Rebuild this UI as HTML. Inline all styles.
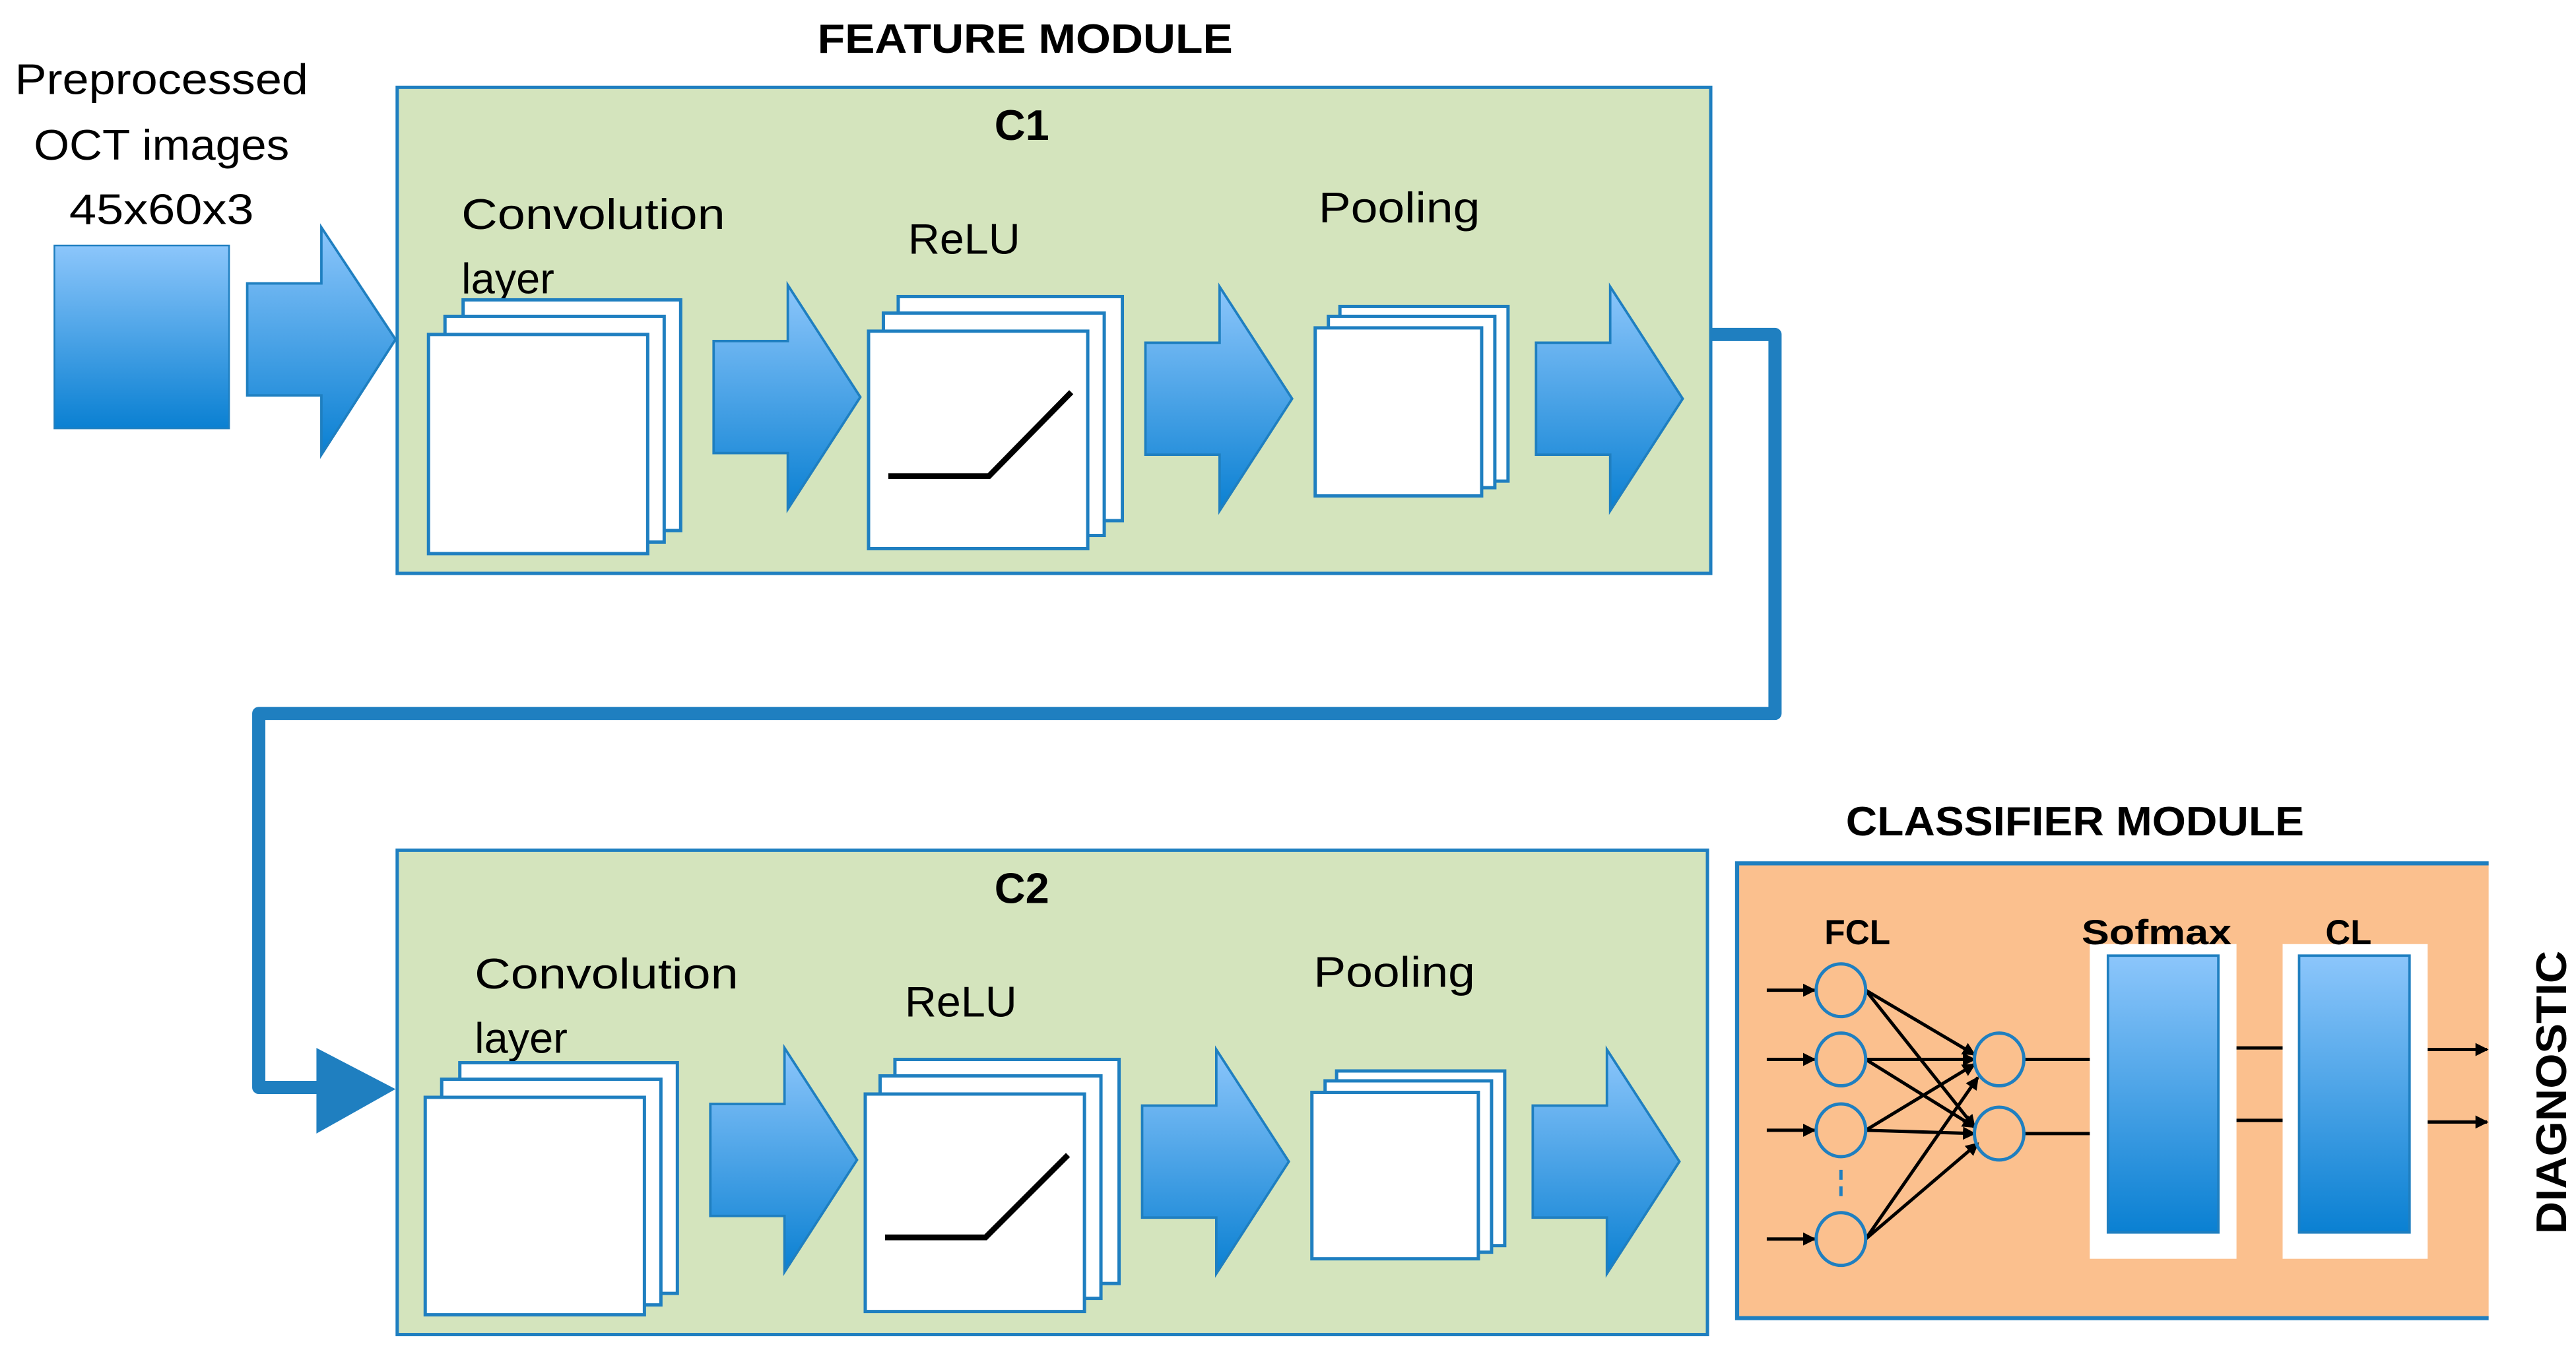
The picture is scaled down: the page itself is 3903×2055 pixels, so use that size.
<!DOCTYPE html>
<html><head><meta charset="utf-8"><style>html,body{margin:0;padding:0;background:#fff}svg{display:block}</style></head>
<body>
<svg width="3903" height="2055" viewBox="0 0 1563 823" preserveAspectRatio="none" xmlns="http://www.w3.org/2000/svg" font-family="Liberation Sans, sans-serif">
<defs>
<linearGradient id="g" x1="0" y1="0" x2="0" y2="1"><stop offset="0" stop-color="#8cc6fb"/><stop offset="1" stop-color="#0a80d2"/></linearGradient>
<marker id="ah" markerWidth="8" markerHeight="8" refX="7" refY="4" orient="auto" markerUnits="userSpaceOnUse"><path d="M0,0 L8,4 L0,8 z" fill="#000"/></marker>
<g id="arr"><path d="M0,0 H45 V-34 L89,34 L45,102 V68 H0 Z" fill="url(#g)" stroke="#1f7fc0" stroke-width="1.5"/></g>
</defs>
<text x="622" y="32" font-size="25" font-weight="bold" text-anchor="middle" textLength="252" lengthAdjust="spacingAndGlyphs">FEATURE MODULE</text>
<g font-size="26" text-anchor="middle">
<text x="98" y="57" textLength="178" lengthAdjust="spacingAndGlyphs">Preprocessed</text>
<text x="98" y="97" textLength="155" lengthAdjust="spacingAndGlyphs">OCT images</text>
<text x="98" y="136" textLength="112" lengthAdjust="spacingAndGlyphs">45x60x3</text>
</g>
<rect x="33" y="149" width="106" height="111" fill="url(#g)" stroke="#1f7fc0" stroke-width="1"/>
<path d="M150,172 H195 V138 L240,206 L195,276 V240 H150 Z" fill="url(#g)" stroke="#1f7fc0" stroke-width="1.5"/>

<rect x="241" y="53" width="797" height="295" fill="#d4e4bd" stroke="#1f7fc0" stroke-width="2"/>
<text x="620" y="85" font-size="26" font-weight="bold" text-anchor="middle">C1</text>
<g font-size="26"><text x="280" y="139" textLength="160" lengthAdjust="spacingAndGlyphs">Convolution</text><text x="280" y="178">layer</text>
<text x="551" y="154" textLength="68" lengthAdjust="spacingAndGlyphs">ReLU</text><text x="800" y="135" textLength="98" lengthAdjust="spacingAndGlyphs">Pooling</text></g>
<g fill="#fff" stroke="#1f7fc0" stroke-width="2">
<rect x="281" y="182" width="132" height="140"/><rect x="270" y="192" width="133" height="137"/><rect x="260" y="203" width="133" height="133"/>
<rect x="545" y="180" width="136" height="136"/><rect x="536" y="190" width="134" height="135"/><rect x="527" y="201" width="133" height="132"/>
<rect x="813" y="186" width="102" height="106"/><rect x="806" y="192" width="101" height="104"/><rect x="798" y="199" width="101" height="102"/>
</g>
<path d="M539,289 H600 L650,238" fill="none" stroke="#000" stroke-width="3.5"/>
<use href="#arr" x="433" y="207"/><use href="#arr" x="695" y="208"/><use href="#arr" x="932" y="208"/>

<path d="M1038,203 H1077 V433 H157 V660 H195" fill="none" stroke="#1f7fc0" stroke-width="8" stroke-linejoin="round"/>
<path d="M192,636 L240,661 L192,688 Z" fill="#1f7fc0"/>

<rect x="241" y="516" width="795" height="294" fill="#d4e4bd" stroke="#1f7fc0" stroke-width="2"/>
<text x="620" y="548" font-size="26" font-weight="bold" text-anchor="middle">C2</text>
<g font-size="26"><text x="288" y="600" textLength="160" lengthAdjust="spacingAndGlyphs">Convolution</text><text x="288" y="639">layer</text>
<text x="549" y="617" textLength="68" lengthAdjust="spacingAndGlyphs">ReLU</text><text x="797" y="599" textLength="98" lengthAdjust="spacingAndGlyphs">Pooling</text></g>
<g fill="#fff" stroke="#1f7fc0" stroke-width="2">
<rect x="279" y="645" width="132" height="140"/><rect x="268" y="655" width="133" height="137"/><rect x="258" y="666" width="133" height="132"/>
<rect x="543" y="643" width="136" height="136"/><rect x="534" y="653" width="134" height="135"/><rect x="525" y="664" width="133" height="132"/>
<rect x="811" y="650" width="102" height="106"/><rect x="804" y="656" width="101" height="104"/><rect x="796" y="663" width="101" height="101"/>
</g>
<path d="M537,751 H598 L648,701" fill="none" stroke="#000" stroke-width="3.5"/>
<use href="#arr" x="431" y="670"/><use href="#arr" x="693" y="671"/><use href="#arr" x="930" y="671"/>

<text x="1259" y="507" font-size="25" font-weight="bold" text-anchor="middle" textLength="278" lengthAdjust="spacingAndGlyphs">CLASSIFIER MODULE</text>
<rect x="1053" y="523" width="457" height="277" fill="#fbc08e"/>
<path d="M1510,524 H1054 V800 H1510" fill="none" stroke="#1f7fc0" stroke-width="2.5"/>
<g stroke="#000" stroke-width="2" marker-end="url(#ah)">
<line x1="1072" y1="601" x2="1101" y2="601"/><line x1="1072" y1="643" x2="1101" y2="643"/>
<line x1="1072" y1="686" x2="1101" y2="686"/><line x1="1072" y1="752" x2="1101" y2="752"/>
<line x1="1132" y1="601" x2="1198" y2="640"/><line x1="1132" y1="601" x2="1198" y2="684"/>
<line x1="1132" y1="643" x2="1198" y2="643"/><line x1="1132" y1="643" x2="1198" y2="684"/>
<line x1="1132" y1="686" x2="1198" y2="646"/><line x1="1132" y1="686" x2="1198" y2="688"/>
<line x1="1132" y1="752" x2="1200" y2="654"/><line x1="1132" y1="752" x2="1200" y2="694"/>
<line x1="1462" y1="637" x2="1509" y2="637"/><line x1="1462" y1="681" x2="1509" y2="681"/>
</g>
<line x1="1117" y1="710" x2="1117" y2="726" stroke="#1f7fc0" stroke-width="2" stroke-dasharray="6,4"/>
<g stroke="#000" stroke-width="2"><line x1="1228" y1="643" x2="1270" y2="643"/><line x1="1228" y1="688" x2="1270" y2="688"/>
<line x1="1346" y1="636" x2="1385" y2="636"/><line x1="1346" y1="680" x2="1385" y2="680"/></g>
<g fill="none" stroke="#1f7fc0" stroke-width="2">
<ellipse cx="1117" cy="601" rx="15" ry="16"/><ellipse cx="1117" cy="643" rx="15" ry="16"/><ellipse cx="1117" cy="686" rx="15" ry="16"/><ellipse cx="1117" cy="752" rx="15" ry="16"/>
<ellipse cx="1213" cy="643" rx="15" ry="16"/><ellipse cx="1213" cy="688" rx="15" ry="16"/>
</g>
<rect x="1268" y="573" width="89" height="191" fill="#fff"/><rect x="1385" y="573" width="88" height="191" fill="#fff"/>
<rect x="1279" y="580" width="67" height="168" fill="url(#g)" stroke="#1f7fc0" stroke-width="1.5"/>
<rect x="1395" y="580" width="67" height="168" fill="url(#g)" stroke="#1f7fc0" stroke-width="1.5"/>
<g font-size="21" font-weight="bold">
<text x="1107" y="573" textLength="40" lengthAdjust="spacingAndGlyphs">FCL</text>
<text x="1263" y="573" textLength="91" lengthAdjust="spacingAndGlyphs">Sofmax</text>
<text x="1411" y="573" textLength="28" lengthAdjust="spacingAndGlyphs">CL</text>
</g>
<text transform="translate(1557,663) rotate(-90)" font-size="26" font-weight="bold" text-anchor="middle" textLength="172" lengthAdjust="spacingAndGlyphs">DIAGNOSTIC</text>
</svg>
</body></html>
